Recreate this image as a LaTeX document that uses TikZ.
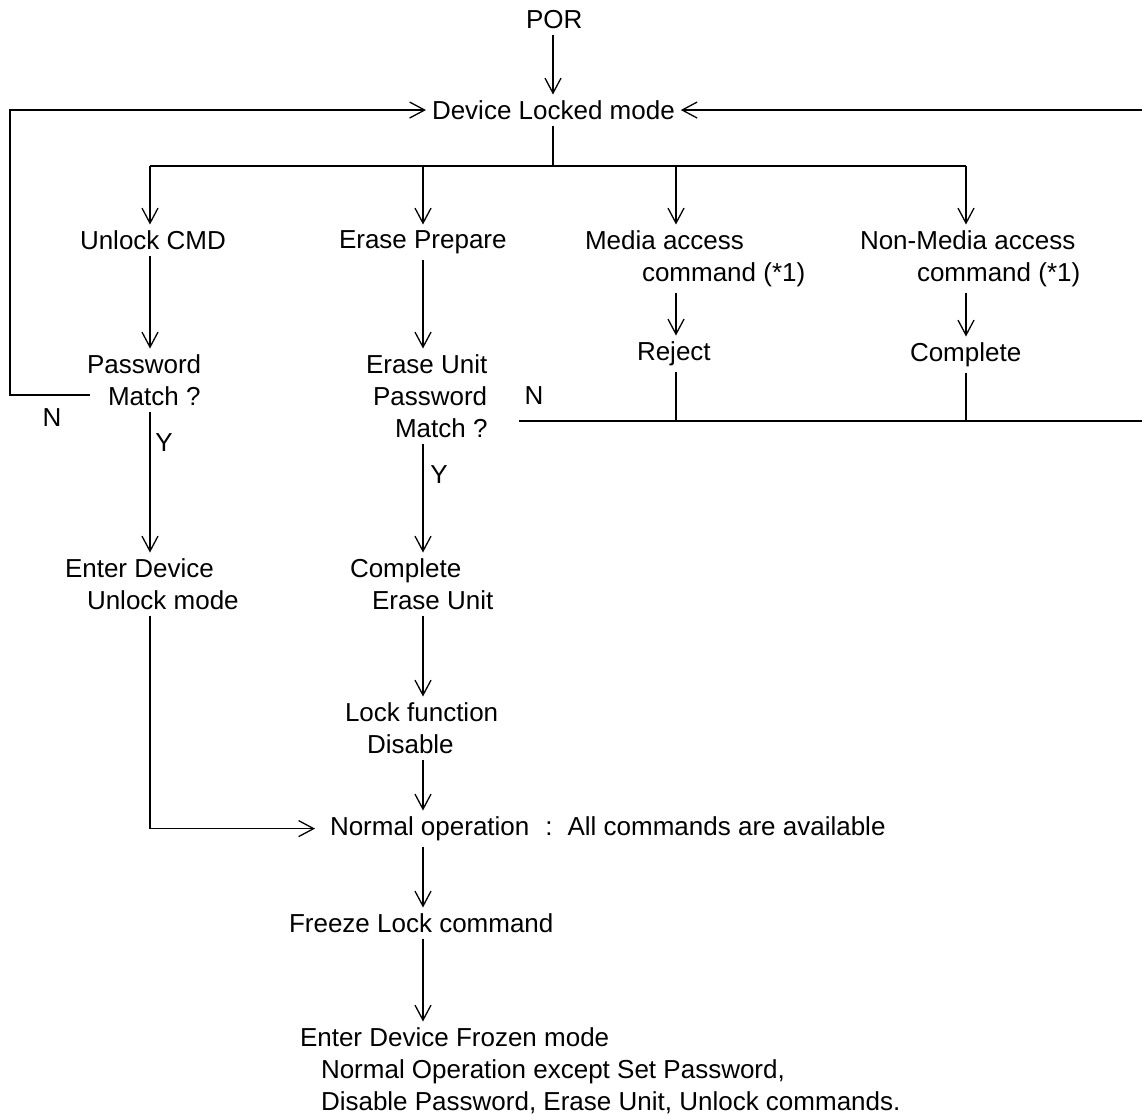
\documentclass[tikz,border=0pt]{standalone}
\usepackage{fontspec}
\setmainfont{Liberation Sans}
\usepackage{tikz}
\usetikzlibrary{arrows.meta}
\tikzset{>={Straight Barb[length=15pt,width=16pt]}}
\tikzset{txt/.style={inner sep=0pt, outer sep=6pt, anchor=north west, align=left,
    xshift=-6pt, yshift=6pt}}
\tikzset{lbl/.style={inner sep=0pt}}

\begin{document}
\begin{tikzpicture}[x=1pt,y=-1pt,line width=1.3pt,font=\fontsize{26}{32}\selectfont]
\useasboundingbox (0,0) rectangle (1142,1115);
    %columns
    \coordinate (c1) at (150,0);
    \coordinate (c2) at (423,0);
    \coordinate (c3) at (676,0);
    \coordinate (c4) at (966,0);
    \coordinate (bus) at (553,166);
    \coordinate (nL) at (90,395);
    \coordinate (nR) at (519,421);
    \coordinate (rt) at (1142,110);
    \coordinate (rb) at (1142,421);
    %steps
    \node[txt] (por) at (526,10.5) {POR};
    \node[txt] (locked) at (432,100.5) {Device Locked mode};
    \node[txt] (unlock) at (80,230.5) {Unlock CMD};
    \node[txt] (erprep) at (339,230.5) {Erase Prepare};
    \node[txt] (media) at (585,230.5) {Media access\\\hspace*{57pt}command (*1)};
    \node[txt] (nonmedia) at (860,230.5) {Non-Media access\\\hspace*{57pt}command (*1)};
    \node[txt] (pwd) at (87,354.5) {Password\\\hspace*{21pt}Match ?};
    \node[txt] (erpwd) at (366,354.5) {Erase Unit\\\hspace*{7pt}Password\\\hspace*{29pt}Match ?};
    \node[txt] (reject) at (637,341.5) {Reject};
    \node[txt] (cmpl) at (910,342.5) {Complete};
    \node[txt] (unlockmode) at (65,558.5) {Enter Device\\\hspace*{22pt}Unlock mode};
    \node[txt] (cmplerase) at (350,558.5) {Complete\\\hspace*{22pt}Erase Unit};
    \node[txt] (lockfn) at (345,702.5) {Lock function\\\hspace*{22pt}Disable};
    \node[txt] (normal) at (330,816.5) {Normal operation\hspace{16pt}:\hspace{15pt}All commands are available};
    \node[txt] (freeze) at (289,913.5) {Freeze Lock command};
    \node[txt] (frozen) at (300,1027.5) {Enter Device Frozen mode\\\hspace*{21pt}Normal Operation except Set Password,\\\hspace*{21pt}Disable Password, Erase Unit, Unlock commands.};
    %labels
    \node[lbl] (n1) at (52,418) {N};
    \node[lbl] (n2) at (534,396) {N};
    \node[lbl] (y1) at (164,443) {Y};
    \node[lbl] (y2) at (439,475) {Y};
    %arrows
    \draw[->] (por.south -| bus) -- (locked.north -| bus);
    \draw[->] (nL) -- (10,395) |- (locked.west);
    \draw[->] (locked.east -| rt) -- (locked.east);
    \draw (locked.south -| bus) -- (bus);
    \draw (bus -| c1) -- (bus -| c4);
    \foreach \c/\n in {c1/unlock,c2/erprep,c3/media,c4/nonmedia}
        \draw[->] (bus -| \c) -- (\n.north -| \c);
    \draw[->] (unlock.south -| c1) -- (pwd.north -| c1);
    \draw[->] (pwd.south -| c1) -- (unlockmode.north -| c1);
    \draw[->,shorten >=9pt] (unlockmode.south -| c1) |- (normal.west);
    \draw[->] (erprep.south -| c2) -- (erpwd.north -| c2);
    \draw[->] (erpwd.south -| c2) -- (cmplerase.north -| c2);
    \draw[->] (cmplerase.south -| c2) -- (lockfn.north -| c2);
    \draw[->] (lockfn.south -| c2) -- (normal.north -| c2);
    \draw[->] (normal.south -| c2) -- (freeze.north -| c2);
    \draw[->] (freeze.south -| c2) -- (frozen.north -| c2);
    \draw[->] (media.south -| c3) -- (reject.north -| c3);
    \draw[->] (nonmedia.south -| c4) -- (cmpl.north -| c4);
    \draw (reject.south -| c3) -- (c3 |- rb);
    \draw (cmpl.south -| c4) -- (c4 |- rb);
    \draw (nR) -- (rb);
\end{tikzpicture}
\end{document}
